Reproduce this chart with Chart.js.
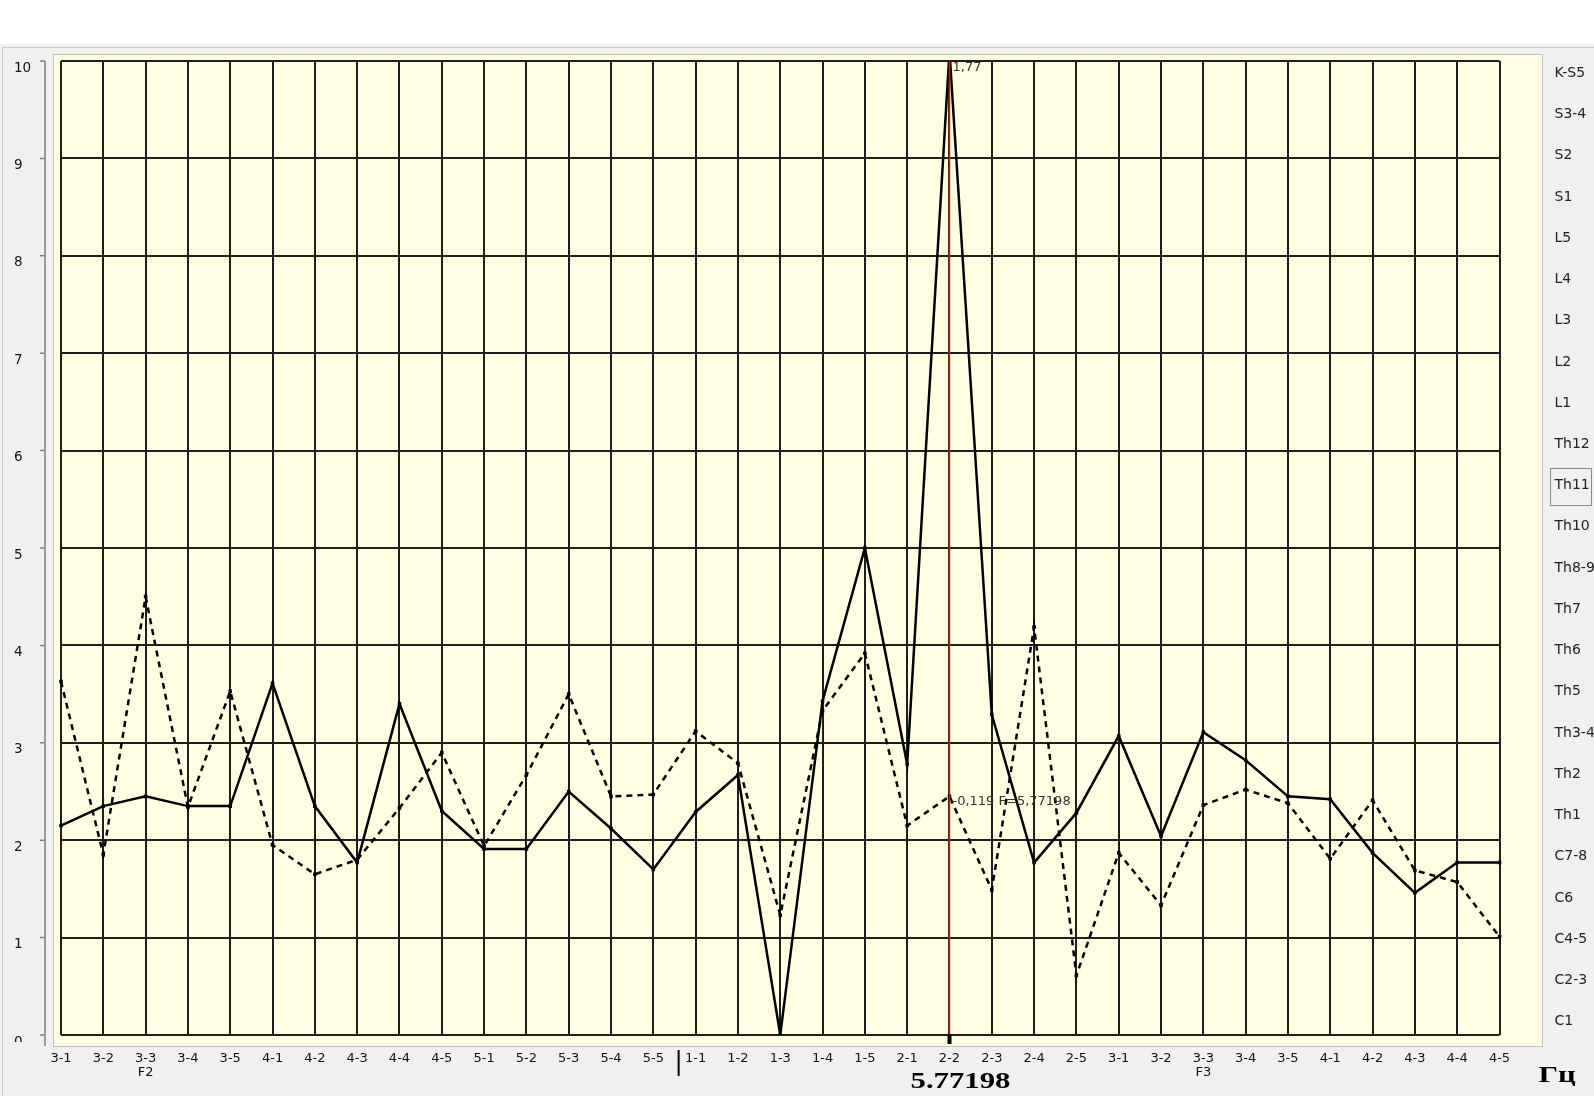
<!DOCTYPE html>
<html lang="ru">
<head>
<meta charset="UTF-8">
<title>Спектр</title>
<script src="https://cdn.jsdelivr.net/npm/chart.js"></script>
<style>
  html, body { margin: 0; padding: 0; background: #ffffff; }
  #wrap { width: 1594px; height: 1096px; }
</style>
</head>
<body>
<div id="wrap"><canvas id="chart" width="1594" height="1096"></canvas></div>
<script>
// categories along the bottom
const categories = ['3-1', '3-2', ['3-3', 'F2'], '3-4', '3-5', '4-1', '4-2', '4-3', '4-4', '4-5',
    '5-1', '5-2', '5-3', '5-4', '5-5', '1-1', '1-2', '1-3', '1-4', '1-5',
    '2-1', '2-2', '2-3', '2-4', '2-5', '3-1', '3-2', ['3-3', 'F3'], '3-4', '3-5',
    '4-1', '4-2', '4-3', '4-4', '4-5'];

// solid curve
const solidValues = [2.15, 2.35, 2.45, 2.35, 2.35, 3.61, 2.35, 1.77, 3.40, 2.30,
    1.91, 1.91, 2.50, 2.12, 1.70, 2.29, 2.67, 0.00, 3.43, 5.00,
    2.78, 10.1, 3.29, 1.77, 2.28, 3.07, 2.04, 3.11, 2.82, 2.45,
    2.42, 1.87, 1.46, 1.77, 1.77];

// dashed curve
const dashedValues = [3.63, 1.85, 4.50, 2.34, 3.53, 1.95, 1.65, 1.80, 2.33, 2.90,
    1.94, 2.67, 3.50, 2.45, 2.47, 3.12, 2.79, 1.23, 3.33, 3.92,
    2.15, 2.45, 1.49, 4.19, 0.61, 1.87, 1.33, 2.36, 2.52, 2.38,
    1.81, 2.41, 1.69, 1.57, 1.01];

// labels on the right, top to bottom
const spineLabels = ['K-S5', 'S3-4', 'S2', 'S1', 'L5', 'L4', 'L3', 'L2', 'L1', 'Th12',
    'Th11', 'Th10', 'Th8-9', 'Th7', 'Th6', 'Th5', 'Th3-4', 'Th2', 'Th1', 'C7-8',
    'C6', 'C4-5', 'C2-3', 'C1'];
const selectedSpine = 'Th11';

const markerIndex = 21;          // 2-2, red cursor
const cursorText = '-0,119 F=5,77198';
const peakText = '1,77';
const freqText = '5.77198';
const unitText = 'Гц';

const gridColor = '#1e1e1e';

// backgrounds, cursor and captions
const panelPlugin = {
    id: 'panel',
    beforeDraw(chart) {
        const ctx = chart.ctx;
        ctx.save();
        ctx.fillStyle = '#ffffff';
        ctx.fillRect(0, 0, chart.width, 44);
        ctx.fillStyle = '#f0f0f0';
        ctx.fillRect(0, 44, chart.width, chart.height - 44);
        ctx.strokeStyle = '#c8c8c8';
        ctx.lineWidth = 1;
        ctx.strokeRect(2.5, 47.5, chart.width + 10, chart.height);
        ctx.fillStyle = '#ffffe3';
        ctx.fillRect(54, 55, 1488, 991);
        ctx.strokeStyle = '#c0c0c0';
        ctx.strokeRect(53.5, 54.5, 1489, 992);
        ctx.restore();
    },
    afterDatasetsDraw(chart) {
        const ctx = chart.ctx;
        const x = chart.scales.x.getPixelForValue(markerIndex);
        const area = chart.chartArea;
        ctx.save();
        ctx.strokeStyle = '#ff0000';
        ctx.lineWidth = 1.5;
        ctx.beginPath();
        ctx.moveTo(x, area.top);
        ctx.lineTo(x, area.bottom);
        ctx.stroke();
        ctx.restore();
    },
    afterDraw(chart) {
        const ctx = chart.ctx;
        const xs = chart.scales.x;
        const ys = chart.scales.y;
        const ys2 = chart.scales.y2;
        const area = chart.chartArea;
        const redX = xs.getPixelForValue(markerIndex);
        ctx.save();

        // hide lower part of the "0" label
        ctx.fillStyle = '#f0f0f0';
        ctx.fillRect(3, 1042, 37, 20);

        // left axis with ticks
        ctx.strokeStyle = '#808080';
        ctx.lineWidth = 1.5;
        ctx.beginPath();
        ctx.moveTo(45, area.top);
        ctx.lineTo(45, 1046);
        ys.ticks.forEach(t => {
            const py = ys.getPixelForValue(t.value);
            ctx.moveTo(40, py);
            ctx.lineTo(45, py);
        });
        ctx.stroke();

        // separator between 5-5 and 1-1
        const sepX = xs.getPixelForValue(15) - 17;
        ctx.strokeStyle = '#000';
        ctx.lineWidth = 2;
        ctx.beginPath();
        ctx.moveTo(sepX, 1050);
        ctx.lineTo(sepX, 1076);
        ctx.stroke();

        // cursor foot
        ctx.fillStyle = '#000';
        ctx.fillRect(redX - 2, area.bottom - 1, 4, 10);

        // captions near the cursor
        ctx.fillStyle = '#333';
        ctx.font = '13px "DejaVu Sans"';
        ctx.textAlign = 'left';
        ctx.textBaseline = 'middle';
        ctx.fillText(peakText, redX + 3, 68);
        ctx.fillText(cursorText, redX + 3, 802);

        // frequency and unit
        ctx.fillStyle = '#000';
        ctx.font = 'bold 24px "Liberation Serif"';
        ctx.textAlign = 'center';
        ctx.save();
        ctx.translate(redX + 11, 1082);
        ctx.scale(1.28, 1);
        ctx.fillText(freqText, 0, 0);
        ctx.restore();
        ctx.save();
        ctx.translate(1557, 1076);
        ctx.scale(1.28, 1);
        ctx.fillText(unitText, 0, 0);
        ctx.restore();

        // box round the selected spine label
        const idx = spineLabels.length - 1 - spineLabels.indexOf(selectedSpine);
        const by = ys2.getPixelForValue(idx);
        ctx.strokeStyle = '#8a8a8a';
        ctx.lineWidth = 1;
        ctx.strokeRect(1550.5, Math.round(by - 18) + 0.5, 41, 37);

        ctx.restore();
    }
};

const ctx = document.getElementById('chart').getContext('2d');
new Chart(ctx, {
    type: 'line',
    data: {
        labels: categories,
        datasets: [{
            data: solidValues,
            borderColor: '#000',
            backgroundColor: '#000',
            borderWidth: 2.5,
            tension: 0,
            pointStyle: 'rect',
            pointRadius: 2.5,
            pointBorderWidth: 0
        }, {
            data: dashedValues,
            borderColor: '#000',
            backgroundColor: '#000',
            borderWidth: 2.5,
            borderDash: [6, 5],
            tension: 0,
            pointStyle: 'rect',
            pointRadius: 2.5,
            pointBorderWidth: 0
        }]
    },
    options: {
        responsive: false,
        animation: false,
        layout: { padding: { left: 14, top: 61, right: 0, bottom: 0 } },
        plugins: {
            legend: { display: false },
            tooltip: { enabled: false }
        },
        scales: {
            x: {
                type: 'category',
                offset: false,
                grid: { color: gridColor, lineWidth: 2, drawTicks: false },
                border: { display: false },
                ticks: {
                    autoSkip: false,
                    maxRotation: 0,
                    padding: 17,
                    color: '#111',
                    font: { family: 'DejaVu Sans', size: 13, lineHeight: 1.05 }
                },
                afterFit(s) { s.height = 61; s.paddingLeft = 0; s.paddingRight = 0; }
            },
            y: {
                min: 0,
                max: 10,
                grid: { color: gridColor, lineWidth: 2, drawTicks: false },
                border: { display: false },
                ticks: {
                    stepSize: 1,
                    crossAlign: 'far',
                    labelOffset: 7,
                    color: '#111',
                    font: { family: 'DejaVu Sans', size: 13.5 }
                },
                afterFit(s) { s.width = 47; s.paddingTop = 0; s.paddingBottom = 0; }
            },
            y2: {
                position: 'right',
                min: -0.3226,
                max: 23.296,
                grid: { drawOnChartArea: false, drawTicks: false },
                border: { display: false },
                afterBuildTicks(s) {
                    s.ticks = spineLabels.map((_, i) => ({ value: i }));
                },
                ticks: {
                    padding: 55,
                    color: '#222',
                    font: { family: 'DejaVu Sans', size: 14 },
                    callback: v => spineLabels[spineLabels.length - 1 - v]
                },
                afterFit(s) { s.width = 94.5; s.paddingTop = 0; s.paddingBottom = 0; }
            }
        }
    },
    plugins: [panelPlugin]
});
</script>
</body>
</html>
